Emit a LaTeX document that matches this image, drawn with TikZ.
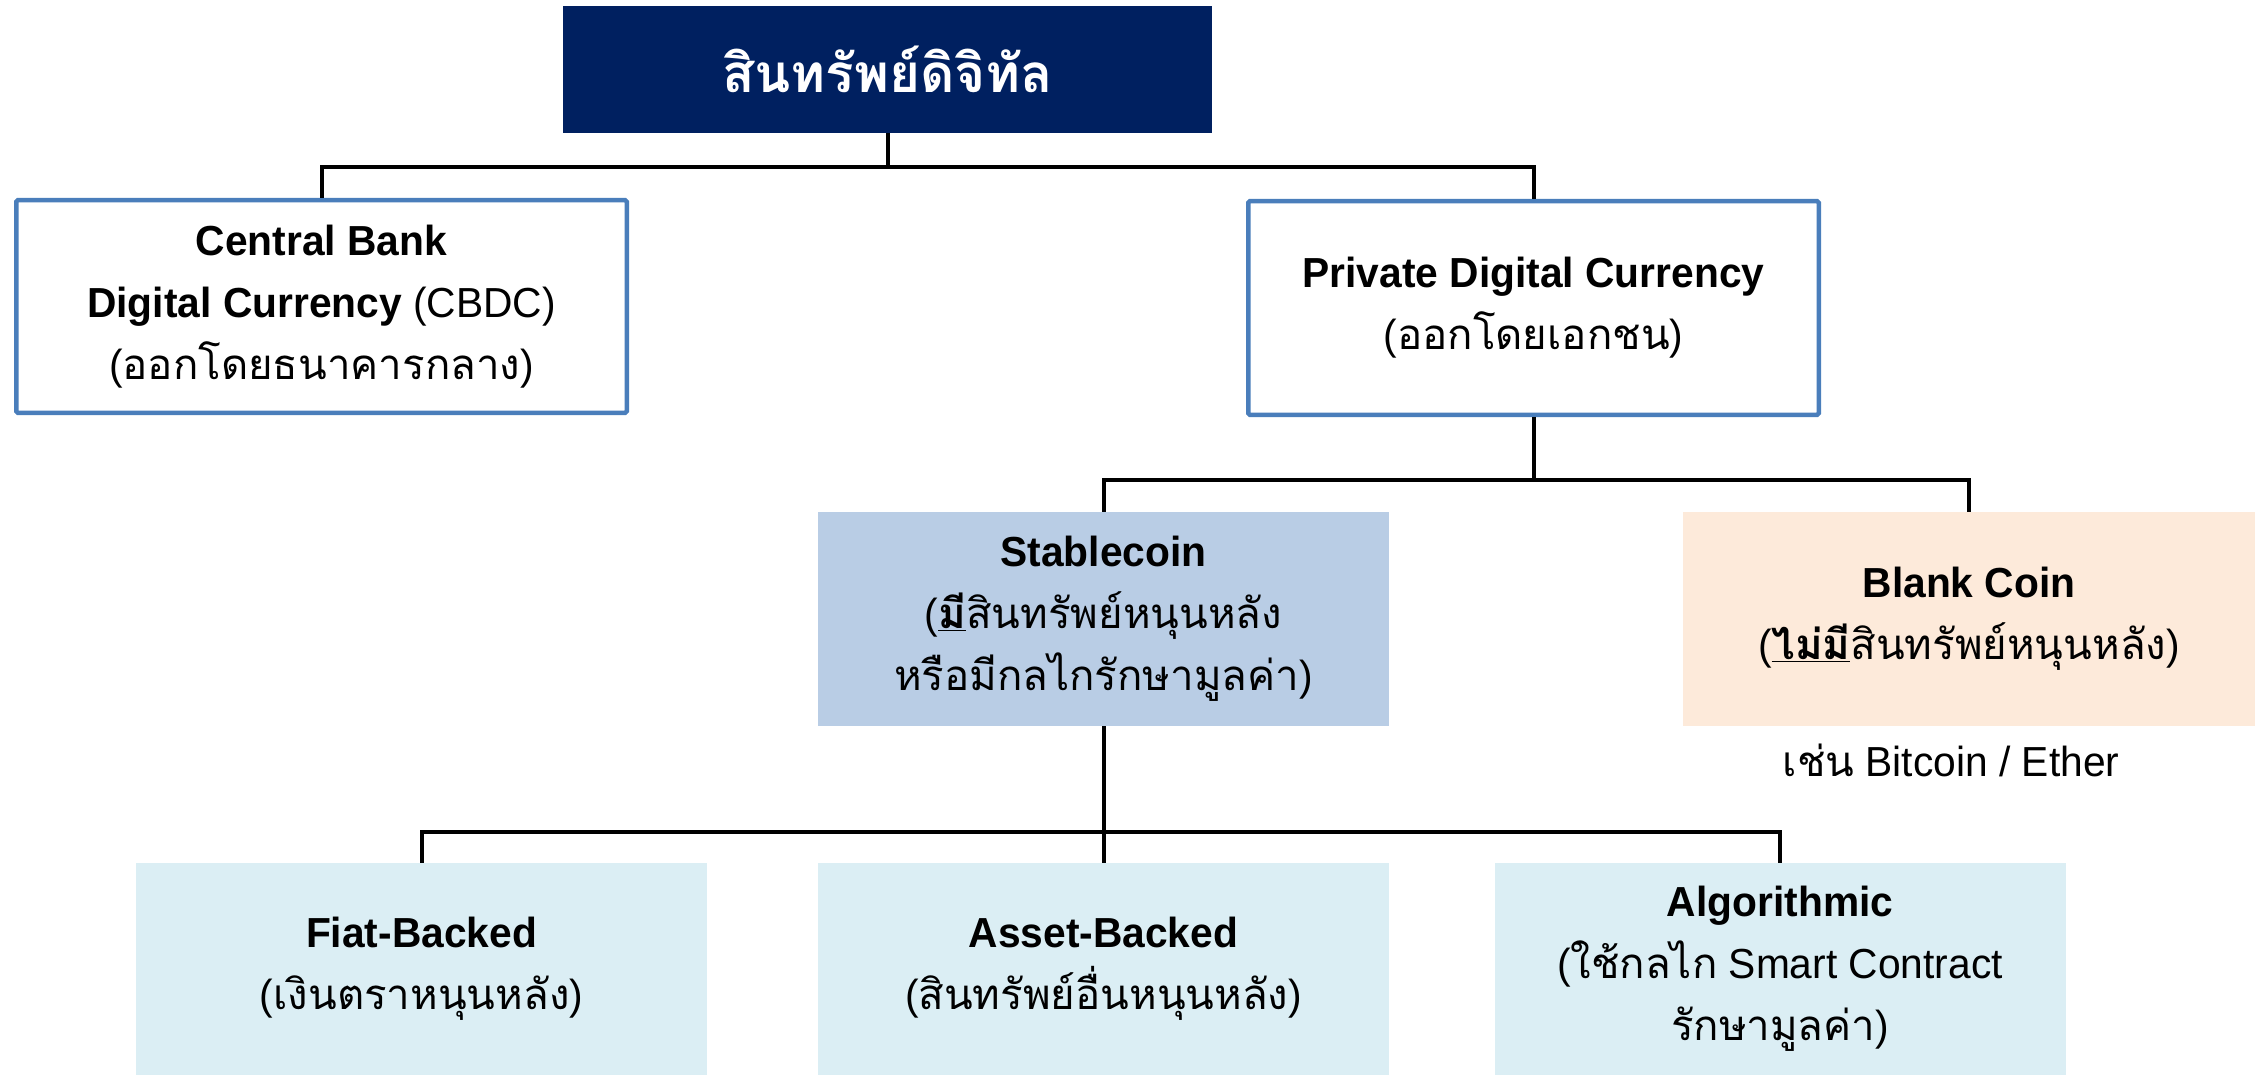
\documentclass[tikz,border=0pt]{standalone}
\usepackage{fontspec}
\setmainfont[FakeStretch=0.97]{Liberation Sans}
\newfontfamily\thaifont[Script=Thai]{Loma}
\newcommand{\tx}[1]{{\thaifont #1}}
\definecolor{navy}{HTML}{002060}
\definecolor{bord}{HTML}{4A7EBB}
\definecolor{stablefill}{HTML}{B9CDE5}
\definecolor{blankfill}{HTML}{FDEADA}
\definecolor{leaffill}{HTML}{DBEEF4}
\begin{document}
\begin{tikzpicture}[x=1pt,y=-1pt,
  every node/.style={inner sep=0pt, align=center},
  txt/.style={font=\fontsize{42}{62}\selectfont},
  outl/.style={draw=bord, line width=4.5pt, fill=white, rounded corners=1.5pt, txt},
  flat/.style={minimum width=571pt, minimum height=214pt, txt},
  conn/.style={line width=4pt, black}]
\useasboundingbox (0,0) rectangle (2262,1075);
% boxes
\node[fill=navy, minimum width=649pt, minimum height=127pt, text=white,
      font=\fontsize{53}{60}\selectfont\bfseries] (top) at (887.5,69.5) {\tx{สินทรัพย์ดิจิทัล}};
\node[outl, minimum width=610.5pt, minimum height=212.5pt] (cbdc) at (321.5,306.5)
  {\textbf{Central Bank}\\\textbf{Digital Currency} (CBDC)\\(\tx{ออกโดยธนาคารกลาง})};
\node[outl, minimum width=570.5pt, minimum height=213.5pt] (priv) at (1533.5,308)
  {\textbf{Private Digital Currency}\\(\tx{ออกโดยเอกชน})};
\node[flat, fill=stablefill] (stable) at (1103.5,619)
  {\textbf{Stablecoin}\\(\underline{\textbf{\tx{มี}}}\tx{สินทรัพย์หนุนหลัง}\\\tx{หรือมีกลไกรักษามูลค่า})};
\node[flat, fill=blankfill, minimum width=572pt] (blank) at (1969,619)
  {\textbf{Blank Coin}\\(\underline{\textbf{\tx{ไม่มี}}}\tx{สินทรัพย์หนุนหลัง})};
\node[txt] (ex) at (1951,760) {\tx{เช่น} Bitcoin / Ether};
\node[flat, fill=leaffill, minimum height=212pt] (fiat) at (421.5,969)
  {\textbf{Fiat-Backed}\\(\tx{เงินตราหนุนหลัง})};
\node[flat, fill=leaffill, minimum height=212pt] (asset) at (1103.5,969)
  {\textbf{Asset-Backed}\\(\tx{สินทรัพย์อื่นหนุนหลัง})};
\node[flat, fill=leaffill, minimum height=212pt] (algo) at (1780,969)
  {\textbf{Algorithmic}\\(\tx{ใช้กลไก} Smart Contract\\\tx{รักษามูลค่า})};
% junctions
\coordinate (j1) at (887.5,167);
\coordinate (j2) at (1533.5,480);
\coordinate (j3) at (1103.5,832);
% connectors
\draw[conn] (top.south) -- (j1);
\draw[conn] (j1) -| (cbdc.north);
\draw[conn] (j1) -| (priv.north);
\draw[conn] (priv.south) -- (j2);
\draw[conn] (j2) -| (stable.north);
\draw[conn] (j2) -| (blank.north);
\draw[conn] (stable.south) -- (asset.north);
\draw[conn] (j3) -| (fiat.north);
\draw[conn] (j3) -| (algo.north);
\end{tikzpicture}
\end{document}
